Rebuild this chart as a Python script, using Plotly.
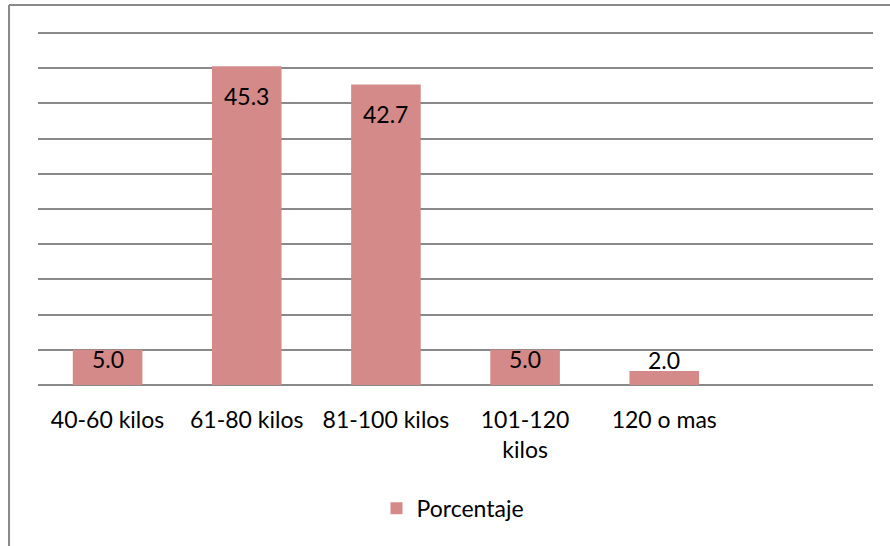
import plotly.graph_objects as go

categories = ["40-60 kilos", "61-80 kilos", "81-100 kilos", "101-120<br>kilos", "120 o mas"]
porcentaje = [5.0, 45.3, 42.7, 5.0, 2.0]

BAR = "#D48A88"
GRID = "#898989"
FONT = "Lato"

fig = go.Figure()
fig.add_trace(go.Bar(
    x=categories, y=porcentaje, name="Porcentaje",
    marker=dict(color=BAR, line=dict(width=0)),
    width=0.5,
    showlegend=True,
    hoverinfo="x+y",
))

# data labels, placed like Excel's "inside end" labels
for cat, v in zip(categories, porcentaje):
    if v >= 10:
        shift = -30
    elif v >= 4:
        shift = -9
    else:
        shift = 11
    fig.add_annotation(x=cat, y=v, text=f"{v:.1f}", showarrow=False,
                       yanchor="middle", yshift=shift,
                       font=dict(family=FONT, size=23, color="#000000"))

fig.update_layout(
    width=890, height=546,
    margin=dict(l=38, r=17, t=31, b=161, autoexpand=False),
    paper_bgcolor="white", plot_bgcolor="white",
    font=dict(family=FONT, size=23, color="#000000"),
    bargap=0.5,
    showlegend=True,
    legend=dict(orientation="h", x=0.497, xanchor="center", y=-0.348, yanchor="middle",
                font=dict(family=FONT, size=23, color="#000000"), itemsizing="constant"),
    xaxis=dict(range=[-0.5, 5.5], showgrid=False, showline=False, ticks="",
               tickfont=dict(family=FONT, size=23, color="#000000"), ticklabelstandoff=19,
               zeroline=False, fixedrange=True, automargin=False),
    yaxis=dict(range=[0, 50.3], tick0=0, dtick=5, showgrid=True, gridcolor=GRID, gridwidth=2,
               showticklabels=False, ticks="", showline=False, zeroline=True,
               zerolinecolor=GRID, zerolinewidth=2, fixedrange=True, automargin=False),
    shapes=[
        dict(type="line", xref="paper", yref="paper", x0=-0.0347, x1=1.03, y0=1.0734, y1=1.0734,
             line=dict(color=GRID, width=2)),
        dict(type="line", xref="paper", yref="paper", x0=-0.0347, x1=-0.0347, y0=1.0734, y1=-0.47,
             line=dict(color=GRID, width=2)),
    ],
)

fig.write_html("out.html", config={"displayModeBar": False},
               post_script="document.body.style.margin='0';")
